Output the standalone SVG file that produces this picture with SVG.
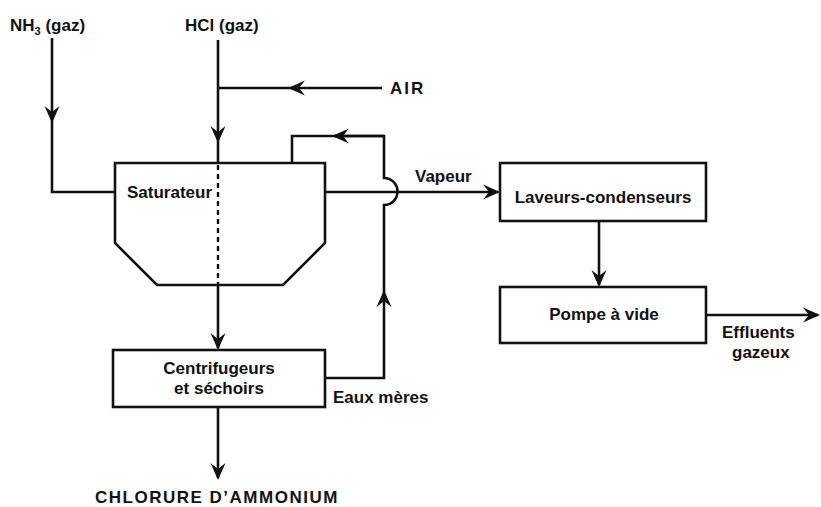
<svg xmlns="http://www.w3.org/2000/svg" width="821" height="507" viewBox="0 0 821 507">
<style>
.ln{fill:none;stroke:#111;stroke-width:2.6;stroke-linejoin:miter}
.box{fill:#fff;stroke:#111;stroke-width:2.6}
.dash{fill:none;stroke:#111;stroke-width:2.4;stroke-dasharray:5 4}
.t{font-family:"Liberation Sans",Arial,sans-serif;font-weight:bold;font-size:17px;fill:#111}
.arr{marker-end:url(#ah)}
</style>
<defs>
<marker id="ah" viewBox="-16 -9 19 18" refX="0" refY="0" markerWidth="19" markerHeight="18" markerUnits="userSpaceOnUse" orient="auto">
<path d="M2,0 L-15,-7.5 L-9,0 L-15,7.5 Z" fill="#111"/>
</marker>
</defs>
<rect width="821" height="507" fill="#fff"/>

<g id="connectors">
<path class="ln arr" d="M52,38 V121"/>
<path class="ln" d="M52,121 V192 H115"/>
<path class="ln arr" d="M218,40 V141"/>
<path class="ln" d="M218,141 V163"/>
<path class="ln arr" d="M382,88 H290"/>
<path class="ln" d="M290,88 H218"/>
<path class="dash" d="M218,165 V284"/>
<path class="ln arr" d="M218,285 V348"/>
<path class="ln arr" d="M218,407 V478"/>
<path class="ln arr" d="M325,378 H384 V292"/>
<path class="ln" d="M384,292 V205 A13.5,13.5 0 0 0 384,178 V136 H334"/>
<path class="ln arr" d="M384,136 H334"/>
<path class="ln" d="M334,136 H292 V163"/>
<path class="ln arr" d="M325,192 H498"/>
<path class="ln arr" d="M599,221 V285"/>
<path class="ln arr" d="M706,315 H818"/>
</g>

<g id="saturateur">
<polygon class="box" points="115,163 325,163 325,243 283,285 157,285 115,243"/>
<path class="dash" d="M218,165 V284"/>
<text class="t" x="127" y="198">Saturateur</text>
</g>

<g id="laveurs">
<rect class="box" x="500" y="163" width="206" height="58"/>
<text class="t" x="603" y="203" text-anchor="middle">Laveurs-condenseurs</text>
</g>

<g id="pompe">
<rect class="box" x="500" y="287" width="206" height="56"/>
<text class="t" x="604" y="320" text-anchor="middle">Pompe à vide</text>
</g>

<g id="centrifugeurs">
<rect class="box" x="113" y="350" width="212" height="57"/>
<text class="t" x="219" y="374" text-anchor="middle">Centrifugeurs</text>
<text class="t" x="219" y="394" text-anchor="middle">et séchoirs</text>
</g>

<g id="labels">
<text class="t" x="10" y="31">NH<tspan font-size="11" dy="4">3</tspan><tspan dy="-4"> (gaz)</tspan></text>
<text class="t" x="185" y="31">HCl (gaz)</text>
<text class="t" x="390" y="94" letter-spacing="2">AIR</text>
<text class="t" x="415" y="182">Vapeur</text>
<text class="t" x="333" y="403">Eaux mères</text>
<text class="t" x="722" y="338">Effluents</text>
<text class="t" x="732" y="358">gazeux</text>
<text class="t" x="95" y="503" letter-spacing="1.5">CHLORURE D’AMMONIUM</text>
</g>
</svg>
